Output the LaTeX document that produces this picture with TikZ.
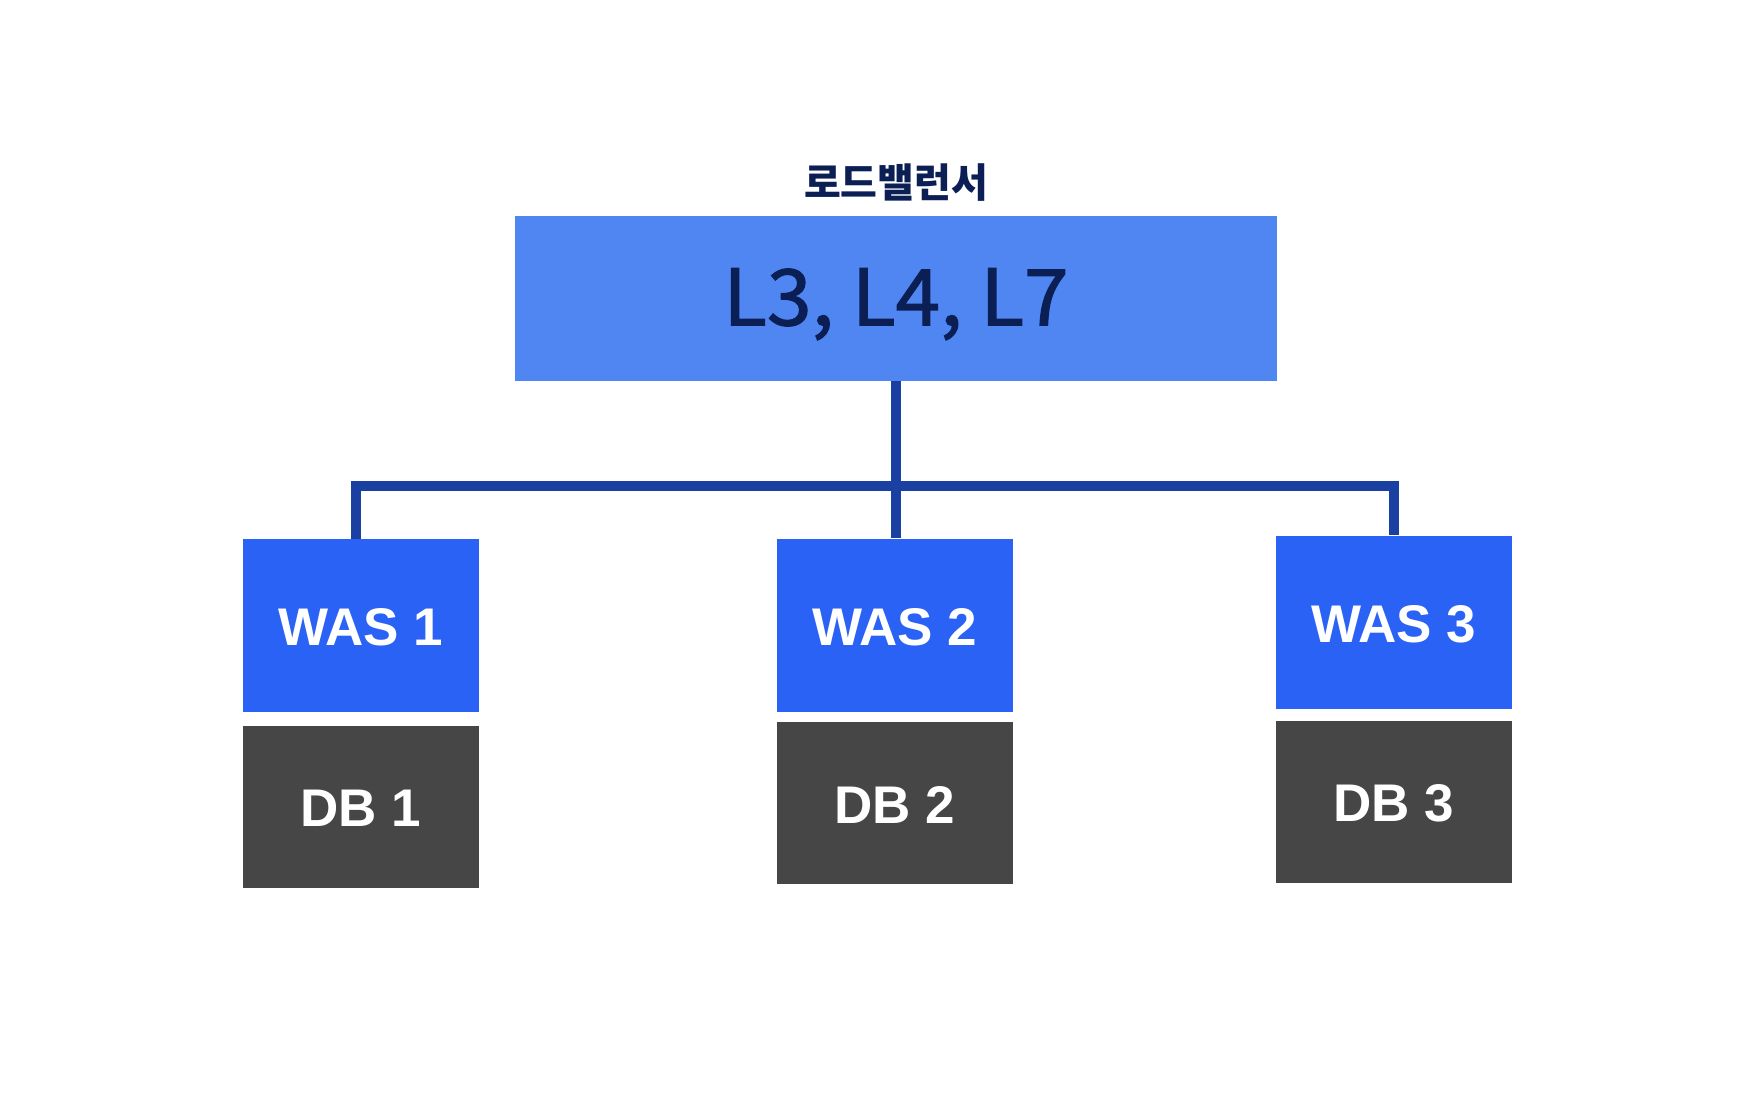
\documentclass[tikz,border=0pt]{standalone}
\usepackage{fontspec}
\newfontfamily\krfont{Noto Sans CJK KR}
\newfontfamily\krmid[FakeBold=1.5,FakeStretch=1.03]{Noto Sans CJK KR}
\newfontfamily\headfont{Liberation Sans}
\definecolor{lbblue}{HTML}{4F86F2}
\definecolor{wasblue}{HTML}{2A62F5}
\definecolor{dbgray}{HTML}{464646}
\definecolor{linkblue}{HTML}{1A40A2}
\definecolor{navy}{HTML}{0B1F55}
\newcommand{\lowerby}[2]{\raisebox{-#1}[\height][\depth]{#2}}
\begin{document}
\begin{tikzpicture}[x=0.5pt,y=-0.5pt,
  lbbox/.style={fill=lbblue, inner sep=0pt, minimum width=381pt, minimum height=82.5pt, text=navy},
  wasbox/.style={fill=wasblue, inner sep=0pt, minimum width=118pt, minimum height=86.5pt, text=white, font=\headfont\bfseries\fontsize{26.5}{30}\selectfont},
  dbbox/.style={fill=dbgray, inner sep=0pt, minimum width=118pt, minimum height=81pt, text=white, font=\headfont\bfseries\fontsize{26.5}{30}\selectfont},
  link/.style={draw=linkblue, line width=5pt}]
\useasboundingbox[fill=white] (0,0) rectangle (1756,1098);
\node[lbbox, font=\krmid\fontsize{39}{44}\selectfont] (lb) at (896,298.5) {\lowerby{2.8pt}{L3, L4, L7}};
\node[text=navy, font=\krfont\bfseries\fontsize{20}{24}\selectfont, inner sep=0pt] (title) at (896,183) {로드밸런서};
\node[wasbox] (was1) at (361,625.5) {\lowerby{1.1pt}{WAS 1}};
\node[dbbox] (db1) at (361,806.5) {\lowerby{0.8pt}{DB 1}};
\node[wasbox] (was2) at (894.5,625) {\lowerby{1.1pt}{WAS 2}};
\node[dbbox] (db2) at (894.5,803) {\lowerby{0.8pt}{DB 2}};
\node[wasbox] (was3) at (1394,622) {\lowerby{1.1pt}{WAS 3}};
\node[dbbox] (db3) at (1394,802) {\lowerby{0.8pt}{DB 3}};
\coordinate (bus) at (896,486);
\coordinate (drop1) at ([xshift=-2.5pt]was1.north);
\draw[link] (lb.south) -- (lb.south |- was2.north);
\draw[link] (drop1) |- (bus) -| (was3.north);
\end{tikzpicture}
\end{document}
